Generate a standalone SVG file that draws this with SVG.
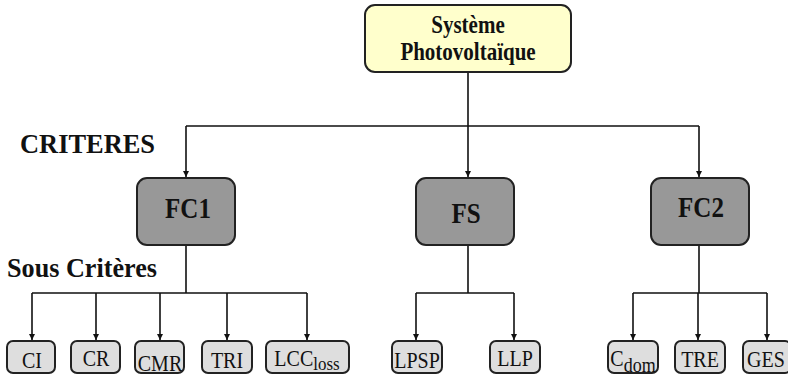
<svg xmlns="http://www.w3.org/2000/svg" width="788" height="385" viewBox="0 0 788 385">
<style>
.root{fill:#FFFFCC;stroke:#222;stroke-width:2}
.mid{fill:#989898;stroke:#222;stroke-width:2}
.leaf{fill:#DEDEDE;stroke:#222;stroke-width:2}
.tb{font-family:"Liberation Serif","Times New Roman",serif;font-weight:bold;fill:#111;text-anchor:middle}
.tr{font-family:"Liberation Serif","Times New Roman",serif;fill:#111;font-size:20px;text-anchor:middle}
.lbl{font-family:"Liberation Serif","Times New Roman",serif;font-weight:bold;fill:#111}
.c{stroke:#111;stroke-width:1.6;fill:none}
.a{stroke:#111;stroke-width:1.6;fill:none;marker-end:url(#arr)}
</style>
<defs>
<marker id="arr" viewBox="0 0 10 10" refX="10" refY="5" markerWidth="6" markerHeight="6" markerUnits="userSpaceOnUse" orient="auto">
<path d="M0,0 L10,5 L0,10 z" fill="#111"/>
</marker>
</defs>
<rect width="788" height="385" fill="#fff"/>
<g id="connectors">
<path class="c" d="M468,72 V126 M186,126 H699"/>
<path class="a" d="M186,126 V177"/>
<path class="a" d="M468,126 V177"/>
<path class="a" d="M699,126 V177"/>
<path class="c" d="M186,245 V293 M32,293 H307"/>
<path class="a" d="M32,293 V340"/>
<path class="a" d="M96,293 V340"/>
<path class="a" d="M160,293 V340"/>
<path class="a" d="M227,293 V340"/>
<path class="a" d="M307,293 V340"/>
<path class="c" d="M468,245 V293 M416,293 H514"/>
<path class="a" d="M416,293 V340"/>
<path class="a" d="M514,293 V340"/>
<path class="c" d="M699,245 V293 M633,293 H767"/>
<path class="a" d="M633,293 V340"/>
<path class="a" d="M698,293 V340"/>
<path class="a" d="M767,293 V340"/>
</g>
<text class="lbl" transform="translate(20,153) scale(1,1.05)" font-size="26" textLength="135" lengthAdjust="spacingAndGlyphs">CRITERES</text>
<text class="lbl" transform="translate(7,277) scale(1,1.1)" font-size="24" textLength="150" lengthAdjust="spacingAndGlyphs">Sous Critères</text>
<g id="root">
<rect class="root" x="365" y="5" width="206" height="67" rx="10"/>
<text class="tb" transform="translate(468,33) scale(1,1.22)" font-size="21">Système</text>
<text class="tb" transform="translate(468,60) scale(1,1.22)" font-size="21">Photovoltaïque</text>
</g>
<g id="FC1">
<rect class="mid" x="137" y="178" width="98" height="67" rx="10"/>
<text class="tb" transform="translate(188,218) scale(1,1.15)" font-size="25">FC1</text>
</g>
<g id="FS">
<rect class="mid" x="416" y="178" width="98" height="67" rx="10"/>
<text class="tb" transform="translate(466,223) scale(1,1.15)" font-size="25">FS</text>
</g>
<g id="FC2">
<rect class="mid" x="651" y="178" width="98" height="67" rx="10"/>
<text class="tb" transform="translate(701,217) scale(1,1.15)" font-size="25">FC2</text>
</g>
<g id="CI">
<rect class="leaf" x="7" y="341" width="48" height="32" rx="6"/>
<text class="tr" transform="translate(32,368) scale(1,1.12)">CI</text>
</g>
<g id="CR">
<rect class="leaf" x="71" y="341" width="49" height="32" rx="6"/>
<text class="tr" transform="translate(96,366) scale(1,1.12)">CR</text>
</g>
<g id="CMR">
<rect class="leaf" x="135" y="341" width="49" height="32" rx="6"/>
<text class="tr" transform="translate(160,371) scale(1,1.12)">CMR</text>
</g>
<g id="TRI">
<rect class="leaf" x="202" y="341" width="50" height="32" rx="6"/>
<text class="tr" transform="translate(227,368) scale(1,1.12)">TRI</text>
</g>
<g id="LCCloss">
<rect class="leaf" x="266" y="341" width="83" height="32" rx="6"/>
<text class="tr" transform="translate(307,366) scale(1,1.12)">LCC<tspan font-size="17" dy="4">loss</tspan></text>
</g>
<g id="LPSP">
<rect class="leaf" x="392" y="341" width="50" height="32" rx="6"/>
<text class="tr" transform="translate(417,368) scale(1,1.12)">LPSP</text>
</g>
<g id="LLP">
<rect class="leaf" x="490" y="341" width="50" height="32" rx="6"/>
<text class="tr" transform="translate(515,366) scale(1,1.12)">LLP</text>
</g>
<g id="Cdom">
<rect class="leaf" x="608" y="341" width="50" height="32" rx="6"/>
<text class="tr" transform="translate(633,366) scale(1,1.12)">C<tspan font-size="18" dy="5">dom</tspan></text>
</g>
<g id="TRE">
<rect class="leaf" x="675" y="341" width="50" height="32" rx="6"/>
<text class="tr" transform="translate(700,367) scale(1,1.12)">TRE</text>
</g>
<g id="GES">
<rect class="leaf" x="743" y="341" width="48" height="32" rx="6"/>
<text class="tr" transform="translate(766,367) scale(1,1.12)">GES</text>
</g>
</svg>
